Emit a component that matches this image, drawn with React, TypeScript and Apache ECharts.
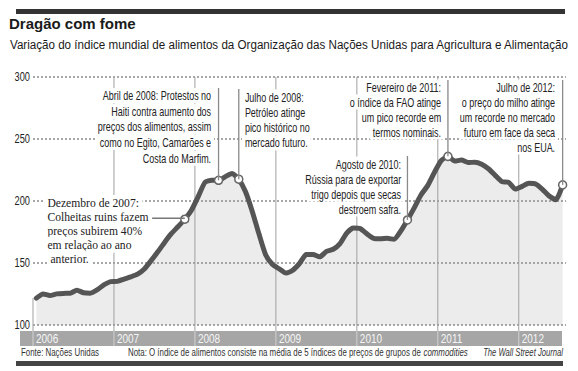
import React, { useEffect, useRef } from "react";
import * as echarts from "echarts";

const yearLabels = ["2006", "2007", "2008", "2009", "2010", "2011", "2012"];
const yTicks = [100, 150, 200, 250, 300];
// Monthly FAO food price index, Jan 2006 .. Jul 2012
const foodIndex = [
  121.7, 125.1, 123.8, 125.1, 125.5, 125.6, 128.1, 126.0, 125.7, 128.3, 132.3, 135.0,
  135.2, 137.0, 138.8, 141.0, 145.2, 151.9, 159.0, 166.6, 173.6, 179.4, 185.3, 192.7,
  203.7, 215.1, 216.8, 216.7, 219.6, 222.2, 217.6, 207.4, 191.6, 173.3, 156.4, 148.7,
  145.3, 141.9, 144.2, 149.6, 156.8, 156.9, 155.0, 159.4, 161.1, 165.7, 174.1, 178.2,
  177.7, 173.5, 169.9, 169.5, 169.9, 169.1, 175.7, 184.7, 194.5, 204.9, 212.4, 223.1,
  232.6, 236.0, 232.2, 233.0, 231.0, 231.3, 229.7, 226.0, 220.7, 215.6, 215.0, 209.6,
  211.8, 214.3, 213.7, 209.4, 204.0, 201.0, 213.0,
];
const highlightMonths = [22, 27, 30, 55, 61, 78];

const titleText = "Dragão com fome";
const subtitleText =
  "Variação do índice mundial de alimentos da Organização das Nações Unidas para Agricultura e Alimentação";
const noteDec2007 = ["Dezembro de 2007:", "Colheitas ruins fazem", "preços subirem 40%", "em relação ao ano", "anterior."];
const noteApr2008 = ["Abril de 2008: Protestos no", "Haiti contra aumento dos", "preços dos alimentos, assim", "como no Egito, Camarões e", "Costa do Marfim."];
const noteJul2008 = ["Julho de 2008:", "Petróleo atinge", "pico histórico no", "mercado futuro."];
const noteAug2010 = ["Agosto de 2010:", "Rússia para de exportar", "trigo depois que secas", "destroem safra."];
const noteFeb2011 = ["Fevereiro de 2011:", "o índice da FAO atinge", "um pico recorde em", "termos nominais."];
const noteJul2012 = ["Julho de 2012:", "o preço do milho atinge", "um recorde no mercado", "futuro em face da seca", "nos EUA."];
const sourceText = "Fonte: Nações Unidas";
const noteText = "Nota: O índice de alimentos consiste na média de 5 índices de preços de grupos de ";
const noteItalic = "commodities";
const creditText = "The Wall Street Journal";

const SANS = '"Liberation Sans", Arial, Helvetica, sans-serif';
const SERIF = '"Liberation Serif", "Times New Roman", serif';

export default function App() {
  const ref = useRef<HTMLDivElement>(null);
  useEffect(() => {
    if (!ref.current) return;
    const chart = echarts.init(ref.current, null, { renderer: "svg" });
    const lineData = foodIndex.map((v, i) => [i + 0.5, v]);
    const hiData = highlightMonths.map((m) => [m + 0.5, foodIndex[m]]);
    chart.setOption({
      animation: false,
      grid: { left: 33, right: 12, top: 77, bottom: 46, containLabel: false },
      xAxis: {
        type: "value",
        min: 0,
        max: 79,
        interval: 12,
        axisLine: { show: false },
        axisTick: { show: false },
        splitLine: { show: false },
        axisLabel: { show: false },
      },
      yAxis: {
        type: "value",
        min: yTicks[0],
        max: yTicks[yTicks.length - 1],
        interval: 50,
        z: 3,
        axisLine: { show: false },
        axisTick: { show: false },
        axisLabel: { show: false },
        splitLine: { show: true, lineStyle: { type: [2, 2], color: "#8a8a8a", width: 1.5 } },
      },
      series: [
        {
          type: "line",
          data: lineData,
          z: 1,
          smooth: 0.2,
          symbol: "none",
          lineStyle: { width: 0 },
          areaStyle: { color: "#ececec", opacity: 1, origin: "start" },
        },
        {
          type: "line",
          data: lineData,
          z: 5,
          smooth: 0.2,
          symbol: "none",
          lineStyle: { width: 5, color: "#555", cap: "round", join: "round" },
        },
        {
          type: "scatter",
          data: hiData,
          z: 6,
          symbol: "circle",
          symbolSize: 8,
          itemStyle: { color: "#fff", borderColor: "#666", borderWidth: 1.5, opacity: 1 },
        },
      ],
    });

    const canvas = document.createElement("canvas");
    const ctx = canvas.getContext("2d")!;
    const measure = (t: string, font: string) => {
      ctx.font = font;
      return ctx.measureText(t).width || 1;
    };

    const px = (x: number, y: number) => chart.convertToPixel({ gridIndex: 0 }, [x, y]) as number[];
    const g: any[] = [];
    const txt = (t: string, x: number, y: number, font: string, align: string, sx: number, extra: any = {}) => ({
      type: "text",
      z: 8,
      x,
      y,
      scaleX: sx,
      style: { text: t, font, fill: "#222", align, verticalAlign: "middle", ...extra },
    });

    // titles
    g.push(txt(titleText, 9, 23, `bold 15px ${SANS}`, "left", 1, { fill: "#1a1a1a" }));
    const subFont = `13.5px ${SANS}`;
    g.push(txt(subtitleText, 10, 45, subFont, "left", 560 / measure(subtitleText, subFont), { fill: "#1a1a1a" }));

    // year band
    const bottomPx = px(0, yTicks[0])[1];
    g.push({ type: "rect", z: 0, shape: { x: 20, y: bottomPx + 6, width: 542, height: 15 }, style: { fill: "#a6a6a6" } });
    // top & bottom rules
    g.push({ type: "rect", z: 9, shape: { x: 16, y: 9, width: 549, height: 5 }, style: { fill: "#333" } });
    g.push({ type: "rect", z: 9, shape: { x: 16, y: 361, width: 547, height: 5 }, style: { fill: "#444" } });

    // year lines + labels
    yearLabels.forEach((lab, k) => {
      const p = px(k * 12, yTicks[0]);
      const top = k === 0 ? px(0.5, foodIndex[0])[1] : px(0, yTicks[yTicks.length - 1])[1];
      g.push({ type: "line", z: 3, shape: { x1: p[0], y1: top, x2: p[0], y2: bottomPx + 6 }, style: { stroke: "#a0a0a0", lineWidth: 1 } });
      g.push({ type: "line", z: 3, shape: { x1: p[0], y1: bottomPx + 6, x2: p[0], y2: bottomPx + 21 }, style: { stroke: "#d2d2d2", lineWidth: 1 } });
      g.push(txt(lab, p[0] + 3, bottomPx + 14, `12.5px ${SANS}`, "left", 0.8, { fill: "#f6f6f6" }));
    });
    // y tick labels
    yTicks.forEach((v) => {
      const p = px(0, v);
      g.push(txt(String(v), 30, p[1] - 1, `12.5px ${SANS}`, "right", 0.74, { fill: "#222" }));
    });

    // annotations
    const NF = `12.5px ${SANS}`;
    const NS = 0.72;
    const addLines = (lines: string[], x: number, y0: number, step: number, align: string, font: string, sx: number) => {
      lines.forEach((t, i) => {
        g.push(txt(t, x, y0 + i * step, font, align, sx, { backgroundColor: "#fff", padding: [1, 4] }));
      });
    };
    const marker = (m: number) => px(m + 0.5, foodIndex[m]);
    const vLeader = (m: number, yTop: number) => {
      const p = marker(m);
      g.push({ type: "line", z: 7, shape: { x1: p[0], y1: yTop, x2: p[0], y2: p[1] }, style: { stroke: "#8a8a8a", lineWidth: 1.3 } });
    };
    // Dec 2007 (serif)
    addLines(noteDec2007.slice(0, 4), 44, 203, 13.9, "left", `13.5px ${SERIF}`, 0.86);
    addLines(noteDec2007.slice(4), 47, 203 + 4 * 13.9, 13.9, "left", `13.5px ${SERIF}`, 0.86);
    {
      const p = marker(highlightMonths[0]);
      g.push({ type: "line", z: 7, shape: { x1: 146, y1: p[1] - 1, x2: p[0], y2: p[1] - 1 }, style: { stroke: "#777", lineWidth: 1.3 } });
    }
    addLines(noteApr2008, 214, 95.5, 15.7, "right", NF, NS);
    vLeader(highlightMonths[1], 88);
    addLines(noteJul2008, 242, 97, 15.3, "left", NF, NS);
    vLeader(highlightMonths[2], 89);
    addLines(noteAug2010, 404, 164, 15, "right", NF, NS);
    vLeader(highlightMonths[3], 156);
    addLines(noteFeb2011, 444, 87, 15, "right", NF, NS);
    vLeader(highlightMonths[4], 80);
    addLines(noteJul2012, 558, 87, 15, "right", NF, NS);
    vLeader(highlightMonths[5], 80);

    // footer
    const FF = `11px ${SANS}`;
    const FFI = `italic 11px ${SANS}`;
    g.push(txt(sourceText, 21, 352, FF, "left", 78 / measure(sourceText, FF), { fill: "#333" }));
    const noteW = measure(noteText, FF) + measure(noteItalic, FFI);
    g.push({
      type: "text",
      z: 8,
      x: 128,
      y: 352,
      scaleX: 340 / noteW,
      style: {
        text: `{n|${noteText}}{i|${noteItalic}}`,
        align: "left",
        verticalAlign: "middle",
        rich: {
          n: { fontFamily: SANS, fontSize: 11, fill: "#333", color: "#333" },
          i: { fontFamily: SANS, fontSize: 11, fontStyle: "italic", fill: "#333", color: "#333" },
        },
      },
    });
    g.push(txt(creditText, 563, 352, FFI, "right", 80 / measure(creditText, FFI), { fill: "#333" }));

    chart.setOption({ graphic: g });
    return () => chart.dispose();
  }, []);
  return <div ref={ref} style={{ width: 578, height: 371, position: "absolute", left: 0, top: 0, background: "#fff" }} />;
}
